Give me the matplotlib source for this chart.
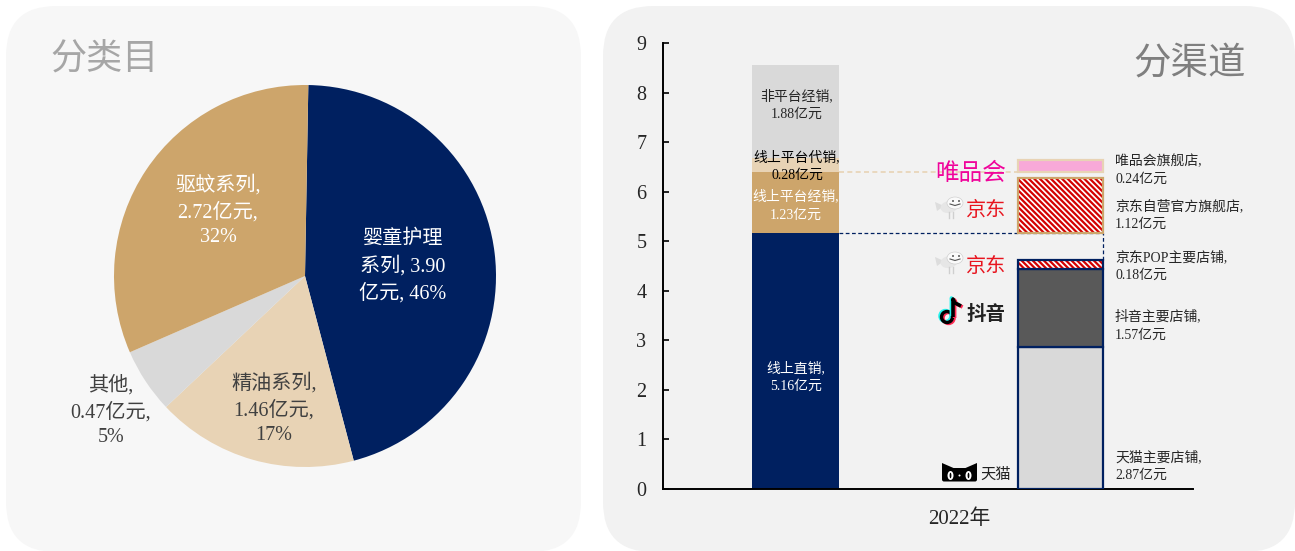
import matplotlib
matplotlib.use("Agg")
import matplotlib.pyplot as plt
from matplotlib.patches import FancyBboxPatch, Ellipse, Polygon, Circle

W, H = 1295, 551
SERIF = ['Liberation Serif', 'Noto Sans CJK SC']
LOGO = ['Noto Sans CJK SC', 'DejaVu Sans']
plt.rcParams['font.family'] = SERIF
plt.rcParams['hatch.linewidth'] = 1.6

NAVY, TAN, BEIGE, GREY, DARK, PINK, RED = '#002060', '#CDA56B', '#E8D3B5', '#D9D9D9', '#595959', '#F8A9D8', '#D40000'

# category split
pie_values = [3.90, 1.46, 0.47, 2.72]
pie_colors = [NAVY, BEIGE, GREY, TAN]
pie_labels = ['婴童护理\n系列, 3.90\n亿元, 46%', '精油系列,\n1.46亿元,\n17%', '其他,\n0.47亿元,\n5%', '驱蚊系列,\n2.72亿元,\n32%']

# channel split, left column
direct_online = 5.16
platform_dist = 1.23
platform_agent = 0.28
offplatform_dist = 1.88

# channel split, right column
tmall = 2.87
douyin = 1.57
jd_pop = 0.18
jd_flagship = 1.12
vip_flagship = 0.24

yticks = list(range(10))
year_label = '2022年'


def box(x0, y0, x1, y1):
    return [x0 / W, 1 - y1 / H, (x1 - x0) / W, (y1 - y0) / H]


fig = plt.figure(figsize=(W / 100, H / 100), dpi=100, facecolor='white')

# rounded panels behind everything
bg = fig.add_axes([0, 0, 1, 1], zorder=0)
bg.set_xlim(0, W)
bg.set_ylim(H, 0)
bg.axis('off')
for x0, y0, x1, y1, c in [(6, 6, 581, 552, '#F7F7F7'), (603, 6, 1295, 552, '#F2F2F2')]:
    r = 50
    bg.add_patch(FancyBboxPatch((x0 + r, y0 + r), x1 - x0 - 2 * r, y1 - y0 - 2 * r,
                                boxstyle=f'round,pad={r},rounding_size={r}', fc=c, ec='none'))

# pie
ax_pie = fig.add_axes(box(114, 85, 496, 467), zorder=1)
ax_pie.pie(pie_values, colors=pie_colors, startangle=89, counterclock=False, radius=1,
           wedgeprops={'linewidth': 0})
ax_pie.set_xlim(-1, 1)
ax_pie.set_ylim(-1, 1)

# stacked bars: x limits put the columns at 0 and 1
ax = fig.add_axes(box(663, 43, 1193, 489), zorder=1)
ax.patch.set_alpha(0)
ax.set_xlim(-0.5, 1.5)
ax.set_ylim(0, 9)
bw_left = 0.328
bw = 0.322

left_vals = [direct_online, platform_dist, platform_agent, offplatform_dist]
left_cols = [NAVY, TAN, BEIGE, GREY]
bottom = 0
for v, c in zip(left_vals, left_cols):
    ax.bar(0, v, bw_left, bottom=bottom, color=c, linewidth=0, zorder=2)
    bottom += v

lw = 1.6
ax.bar(1, tmall, bw, color=GREY, edgecolor=NAVY, linewidth=lw, zorder=3)
ax.bar(1, douyin, bw, bottom=tmall, color=DARK, edgecolor=NAVY, linewidth=lw, zorder=3)
ax.bar(1, jd_pop, bw, bottom=tmall + douyin, color='white', edgecolor=RED, hatch='\\\\\\\\\\\\', linewidth=0, zorder=3)
ax.bar(1, jd_pop, bw, bottom=tmall + douyin, fill=False, edgecolor=NAVY, linewidth=lw, zorder=4)

ax.bar(1, jd_flagship, bw, bottom=direct_online, color='white', edgecolor=RED, hatch='\\\\\\\\\\\\', linewidth=0, zorder=3)
ax.bar(1, jd_flagship, bw, bottom=direct_online, fill=False, edgecolor=TAN, linewidth=lw, zorder=4)
vip_base = direct_online + platform_dist
ax.bar(1, vip_flagship, bw, bottom=vip_base, color=PINK, edgecolor=BEIGE, linewidth=lw, zorder=3)

# connector lines between the two columns
ax.plot([bw_left / 2, 1 + bw / 2], [vip_base, vip_base], color=BEIGE, lw=1.2, ls=(0, (3, 2)), zorder=2)
ax.plot([bw_left / 2, 1 + bw / 2], [direct_online, direct_online], color=NAVY, lw=0.9, ls=(0, (3, 2)), zorder=2)
ax.plot([1 + bw / 2, 1 + bw / 2], [tmall + douyin + jd_pop, direct_online], color=NAVY, lw=0.9, ls=(0, (3, 2)), zorder=2)

for s in ('top', 'right'):
    ax.spines[s].set_visible(False)
for s in ('left', 'bottom'):
    ax.spines[s].set_linewidth(1.4)
ax.set_yticks(yticks)
ax.tick_params(axis='y', direction='in', length=4, width=1.2, labelsize=14.5, pad=12, labelcolor='#262626')
ax.set_xticks([0.62])
ax.set_xticklabels([year_label], fontsize=15, color='#262626')
ax.tick_params(axis='x', length=0, pad=15)

# annotations and logos share a pixel-space layer on top
top = fig.add_axes([0, 0, 1, 1], zorder=5)
top.set_xlim(0, W)
top.set_ylim(H, 0)
top.axis('off')
top.patch.set_alpha(0)

top.text(105, 60, '分类目', fontsize=26, color='#A6A6A6', ha='center', va='center')
top.text(1190, 64, '分渠道', fontsize=27, color='#7F7F7F', ha='center', va='center')

pie_pos = [(403, 267), (274, 409), (111, 411), (218, 211)]
pie_txt = ['white', '#404040', '#404040', 'white']
for s, (x, y), c in zip(pie_labels, pie_pos, pie_txt):
    top.text(x, y, s, fontsize=14.5, color=c, ha='center', va='center', linespacing=1.42)

bar_notes = [
    ('非平台经销,\n1.88亿元', 797, 105, '#262626', 'center'),
    ('线上平台代销,\n0.28亿元', 797, 166, '#000000', 'center'),
    ('线上平台经销,\n1.23亿元', 796, 205.5, 'white', 'center'),
    ('线上直销,\n5.16亿元', 796, 377, 'white', 'center'),
    ('唯品会旗舰店,\n0.24亿元', 1115, 170.5, '#262626', 'left'),
    ('京东自营官方旗舰店,\n1.12亿元', 1115, 215, '#262626', 'left'),
    ('京东POP主要店铺,\n0.18亿元', 1115, 266, '#262626', 'left'),
    ('抖音主要店铺,\n1.57亿元', 1115, 325.5, '#262626', 'left'),
    ('天猫主要店铺,\n2.87亿元', 1115, 466, '#262626', 'left'),
]
for s, x, y, c, ha in bar_notes:
    top.text(x, y, s, fontsize=10, color=c, ha=ha, va='center', linespacing=1.48)

top.text(971, 174, '唯品会', fontsize=17, color='#F0049B', family=LOGO, ha='center', va='center')


def jd_logo(x, y):
    # mascot sketched from ellipses beside the wordmark
    top.text(x + 36, y + 2, '京东', fontsize=14.5, color='#E8141E', family=LOGO, ha='center', va='center')
    top.add_patch(Polygon([(x - 15, y - 7), (x - 6, y - 3), (x - 13, y + 2)], fc='#DDDDDD', ec='none'))
    top.add_patch(Ellipse((x - 1, y - 2), 17, 12, angle=-10, fc='#E6E6E6', ec='none'))
    top.add_patch(Ellipse((x + 5, y - 6), 16, 12, fc='#FAFAFA', ec='#C8C8C8', lw=0.4))
    top.add_patch(Circle((x + 3, y - 8), 0.9, fc='#333333', ec='none'))
    top.add_patch(Circle((x + 9, y - 8), 0.9, fc='#333333', ec='none'))
    top.plot([x, x + 5, x + 10], [y - 5, y - 3.5, y - 5], color='#555555', lw=0.8)
    top.plot([x - 1, x - 1], [y + 3, y + 9], color='#CFCFCF', lw=1)
    top.plot([x + 3, x + 3], [y + 3, y + 9], color='#CFCFCF', lw=1)


jd_logo(950, 209)
jd_logo(950, 264)

# music-note mark built from three offset copies
for dx, dy, c in [(-1.6, -1, '#25F4EE'), (1.6, 1, '#FE2C55'), (0, 0, '#000000')]:
    top.add_patch(Circle((947 + dx, 317 + dy), 5.5, fc='none', ec=c, lw=2.4))
    top.plot([953 + dx, 953 + dx, 955 + dx, 961 + dx], [317 + dy, 299 + dy, 303 + dy, 306 + dy],
             color=c, lw=2.6, solid_capstyle='butt')
top.text(986, 314, '抖音', fontsize=14, color='#222222', family=LOGO, ha='center', va='center', weight='bold')

# cat-head mark
cx, cy = 959.5, 473
top.add_patch(FancyBboxPatch((cx - 16.5, cy - 4), 33, 11.5, boxstyle='round,pad=1,rounding_size=2', fc='black', ec='none'))
top.add_patch(Polygon([(cx - 17.5, cy - 10), (cx - 17.5, cy), (cx - 6, cy - 5)], fc='black', ec='none'))
top.add_patch(Polygon([(cx + 17.5, cy - 10), (cx + 17.5, cy), (cx + 6, cy - 5)], fc='black', ec='none'))
for ex in (-9, 9):
    top.add_patch(Ellipse((cx + ex, cy + 2.5), 6, 9, fc='white', ec='none'))
    top.add_patch(Ellipse((cx + ex, cy + 2.5), 1.8, 5.5, fc='black', ec='none'))
top.add_patch(Circle((cx, cy + 2.5), 1, fc='white', ec='none'))
top.text(995.5, 474, '天猫', fontsize=11, color='#222222', family=LOGO, ha='center', va='center')

fig.savefig('out.png', dpi=100)
